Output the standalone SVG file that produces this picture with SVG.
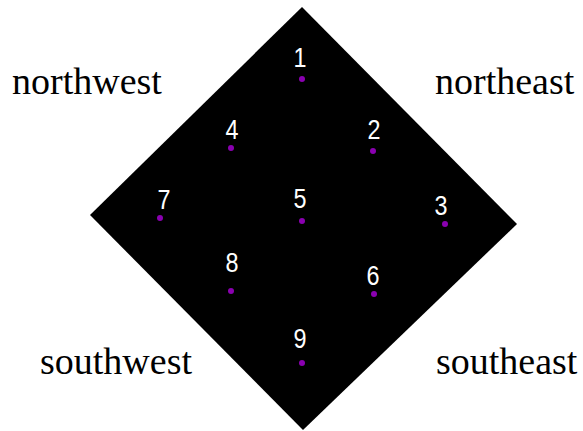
<svg xmlns="http://www.w3.org/2000/svg" width="583" height="431" viewBox="0 0 583 431">
<style>
.dir{font-family:"Liberation Serif","Times New Roman",serif;font-size:38px;fill:#000}
.num{font-family:"Liberation Sans",Arial,sans-serif;font-size:27.5px;fill:#fff;text-anchor:middle}
.dot{fill:#8a00b0}
</style>
<rect width="583" height="431" fill="#fff"/>
<g id="diamond"><polygon points="302,7 517,224 303,430 90,215" fill="#000"/></g>
<g id="labels">
<text class="dir" x="12" y="94">northwest</text>
<text class="dir" x="435" y="94">northeast</text>
<text class="dir" x="40" y="374">southwest</text>
<text class="dir" x="436" y="374">southeast</text>
</g>
<g id="p1"><text class="num" transform="translate(300 67) scale(0.85 1)">1</text><circle class="dot" cx="302" cy="79" r="3"/></g>
<g id="p2"><text class="num" transform="translate(374 139) scale(0.85 1)">2</text><circle class="dot" cx="373" cy="151" r="3"/></g>
<g id="p3"><text class="num" transform="translate(441 215) scale(0.85 1)">3</text><circle class="dot" cx="445" cy="224" r="3"/></g>
<g id="p4"><text class="num" transform="translate(232 139) scale(0.85 1)">4</text><circle class="dot" cx="231" cy="148" r="3"/></g>
<g id="p5"><text class="num" transform="translate(300 208) scale(0.85 1)">5</text><circle class="dot" cx="302" cy="221" r="3"/></g>
<g id="p6"><text class="num" transform="translate(373 285) scale(0.85 1)">6</text><circle class="dot" cx="374" cy="294" r="3"/></g>
<g id="p7"><text class="num" transform="translate(164 209) scale(0.85 1)">7</text><circle class="dot" cx="160" cy="218" r="3"/></g>
<g id="p8"><text class="num" transform="translate(232 272) scale(0.85 1)">8</text><circle class="dot" cx="231" cy="291" r="3"/></g>
<g id="p9"><text class="num" transform="translate(300 348) scale(0.85 1)">9</text><circle class="dot" cx="302" cy="363" r="3"/></g>
<g id="connectors"/>
</svg>
